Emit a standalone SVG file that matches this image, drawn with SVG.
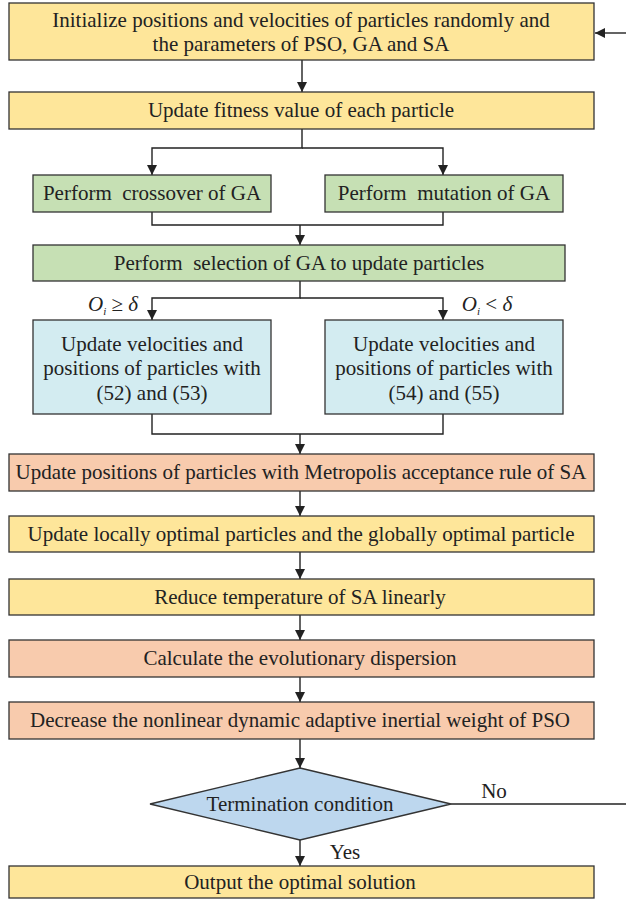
<svg xmlns="http://www.w3.org/2000/svg" width="626" height="900" viewBox="0 0 626 900">
<style>
.b{stroke:#333;stroke-width:1.3}
.y{fill:#FEE69A}
.g{fill:#C6E0B4}
.c{fill:#D3ECF1}
.s{fill:#F8CBAD}
.d{fill:#BDD7EE}
text{font-family:"Liberation Serif","Times New Roman",serif;font-size:21px;fill:#222;text-anchor:middle;white-space:pre}
.l{fill:none;stroke:#222;stroke-width:1.4}
</style>
<defs>
<marker id="a" viewBox="0 0 10 10" refX="10" refY="5" markerWidth="10" markerHeight="10" markerUnits="userSpaceOnUse" orient="auto">
<path d="M0,0 L10,5 L0,10 Z" fill="#222"/>
</marker>
</defs>
<rect width="626" height="900" fill="#fff"/>
<g id="connectors">
<path class="l" d="M302,60 V92" marker-end="url(#a)"/>
<path class="l" d="M302,129 V148 H152 V175" marker-end="url(#a)"/>
<path class="l" d="M302,148 H443 V175" marker-end="url(#a)"/>
<path class="l" d="M152,212 V225 H443 V212"/>
<path class="l" d="M300,225 V245" marker-end="url(#a)"/>
<path class="l" d="M300,281 V298 H152 V320" marker-end="url(#a)"/>
<path class="l" d="M300,298 H443 V320" marker-end="url(#a)"/>
<path class="l" d="M152,414 V434 H443 V414"/>
<path class="l" d="M300,434 V454" marker-end="url(#a)"/>
<path class="l" d="M300,491 V516" marker-end="url(#a)"/>
<path class="l" d="M300,552 V579" marker-end="url(#a)"/>
<path class="l" d="M300,615 V640" marker-end="url(#a)"/>
<path class="l" d="M300,677 V702" marker-end="url(#a)"/>
<path class="l" d="M300,739 V768" marker-end="url(#a)"/>
<path class="l" d="M300,840 V866" marker-end="url(#a)"/>
<path class="l" d="M451,804 H626"/>
<path class="l" d="M626,33 H595" marker-end="url(#a)"/>
<text x="494" y="798">No</text>
<text x="345" y="859">Yes</text>
<text x="113" y="311"><tspan font-style="italic">O</tspan><tspan font-style="italic" font-size="11" dy="4">i</tspan><tspan dy="-4"> ≥ </tspan><tspan font-style="italic">δ</tspan></text>
<text x="487" y="311"><tspan font-style="italic">O</tspan><tspan font-style="italic" font-size="11" dy="4">i</tspan><tspan dy="-4"> &lt; </tspan><tspan font-style="italic">δ</tspan></text>
</g>
<g id="n1"><rect class="b y" x="9" y="3" width="585" height="57"/><text x="301" y="27">Initialize positions and velocities of particles randomly and</text><text x="301" y="51">the parameters of PSO, GA and SA</text></g>
<g id="n2"><rect class="b y" x="9" y="92" width="585" height="37"/><text x="301" y="117">Update fitness value of each particle</text></g>
<g id="n3"><rect class="b g" x="33" y="175" width="238" height="37"/><text x="152" y="200">Perform  crossover of GA</text></g>
<g id="n4"><rect class="b g" x="325" y="175" width="238" height="37"/><text x="444" y="200">Perform  mutation of GA</text></g>
<g id="n5"><rect class="b g" x="33" y="245" width="532" height="36"/><text x="299" y="270">Perform  selection of GA to update particles</text></g>
<g id="n6"><rect class="b c" x="33" y="320" width="238" height="94"/><text x="152" y="351">Update velocities and</text><text x="152" y="375">positions of particles with</text><text x="152" y="400">(52) and (53)</text></g>
<g id="n7"><rect class="b c" x="325" y="320" width="238" height="94"/><text x="444" y="351">Update velocities and</text><text x="444" y="375">positions of particles with</text><text x="444" y="400">(54) and (55)</text></g>
<g id="n8"><rect class="b s" x="9" y="454" width="585" height="37"/><text x="301" y="479">Update positions of particles with Metropolis acceptance rule of SA</text></g>
<g id="n9"><rect class="b y" x="9" y="516" width="585" height="36"/><text x="301" y="541">Update locally optimal particles and the globally optimal particle</text></g>
<g id="n10"><rect class="b y" x="9" y="579" width="585" height="36"/><text x="300" y="604">Reduce temperature of SA linearly</text></g>
<g id="n11"><rect class="b s" x="9" y="640" width="585" height="37"/><text x="300" y="665">Calculate the evolutionary dispersion</text></g>
<g id="n12"><rect class="b s" x="9" y="702" width="585" height="37"/><text x="300" y="727">Decrease the nonlinear dynamic adaptive inertial weight of PSO</text></g>
<g id="n13"><polygon class="b d" points="300,768 451,804 300,840 150,804"/><text x="300" y="811">Termination condition</text></g>
<g id="n14"><rect class="b y" x="9" y="866" width="585" height="32"/><text x="300" y="889">Output the optimal solution</text></g>
</svg>
